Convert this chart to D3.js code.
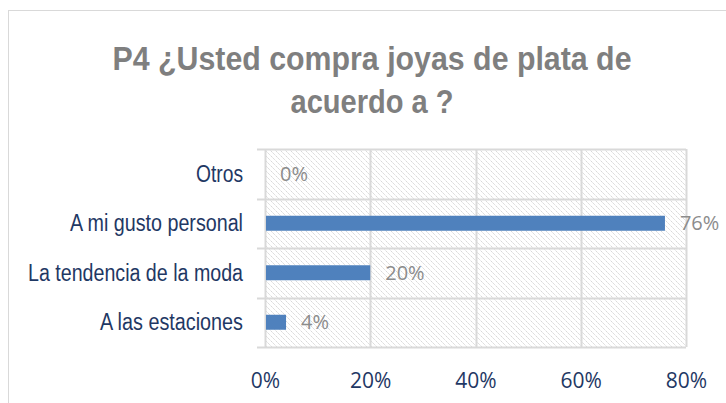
<!DOCTYPE html>
<html lang="es">
<head>
<meta charset="UTF-8">
<title>P4 joyas de plata</title>
<script src="https://d3js.org/d3.v7.min.js"></script>
<style>
  body { margin: 0; background: #fff; }
  svg { display: block; }
  .title { font-family: "Liberation Sans Narrow", "Arial Narrow", "Liberation Sans", sans-serif; font-weight: bold; fill: #7f7f7f; }
  .cat text { font-family: "Liberation Sans Narrow", "Arial Narrow", "Liberation Sans", sans-serif; font-size: 23px; fill: #1f3864; }
  .xax text { font-family: "Open Sans", "Noto Sans", sans-serif; font-size: 21px; fill: #1f3864; }
  .lbl { font-family: "Open Sans", "Noto Sans", sans-serif; font-size: 20px; fill: #8c8c8c; }
</style>
</head>
<body>
<div id="chart"></div>
<script>
// data
const categories = ["Otros", "A mi gusto personal", "La tendencia de la moda", "A las estaciones"];
const values = [0, 0.76, 0.20, 0.04];
const xTicks = [0, 0.2, 0.4, 0.6, 0.8];
const titleLines = ["P4 ¿Usted compra joyas de plata de", "acuerdo a ?"];
const titleWidths = [519, 163];
const catWidths = [47, 173, 215, 143];

const W = 726, H = 403;
const plot = { left: 265, right: 686, top: 149, bottom: 347 };

const svg = d3.select("#chart").append("svg")
  .attr("width", W).attr("height", H);

// hatch pattern for plot background
const defs = svg.append("defs");
const pat = defs.append("pattern")
  .attr("id", "hatch")
  .attr("patternUnits", "userSpaceOnUse")
  .attr("width", 5).attr("height", 5);
pat.append("rect").attr("width", 5).attr("height", 5).attr("fill", "#fff");
pat.append("path")
  .attr("d", "M-1,-1 L6,6 M-1,4 L1,6 M4,-1 L6,1")
  .attr("stroke", "#d4d4d4").attr("stroke-width", 1)
  .attr("stroke-dasharray", "2,1");

// chart border
svg.append("rect")
  .attr("x", 8.5).attr("y", 10.5)
  .attr("width", W).attr("height", H)
  .attr("fill", "none").attr("stroke", "#d9d9d9");

// title
svg.append("g").selectAll("text").data(titleLines).join("text")
  .attr("class", "title")
  .attr("text-anchor", "middle")
  .attr("font-size", 34)
  .attr("x", 372)
  .attr("y", (d, i) => 70 + i * 43)
  .attr("textLength", (d, i) => titleWidths[i])
  .attr("lengthAdjust", "spacingAndGlyphs")
  .text(d => d);

const x = d3.scaleLinear().domain([0, 0.8]).range([plot.left, plot.right]);
const y = d3.scaleBand().domain(categories).range([plot.top, plot.bottom]);

svg.append("rect")
  .attr("x", plot.left).attr("y", plot.top)
  .attr("width", plot.right - plot.left).attr("height", plot.bottom - plot.top)
  .attr("fill", "url(#hatch)");

// vertical gridlines
svg.append("g").selectAll("line").data(xTicks).join("line")
  .attr("x1", d => Math.round(x(d)) + 0.5).attr("x2", d => Math.round(x(d)) + 0.5)
  .attr("y1", plot.top).attr("y2", plot.bottom)
  .attr("stroke", "#d9d9d9").attr("stroke-width", 2);

// horizontal separators (category boundaries)
const bounds = categories.map(c => y(c)).concat([plot.bottom]);
svg.append("g").selectAll("line").data(bounds).join("line")
  .attr("x1", plot.left - 8).attr("x2", plot.right)
  .attr("y1", d => Math.round(d) + 0.5).attr("y2", d => Math.round(d) + 0.5)
  .attr("stroke", "#d9d9d9").attr("stroke-width", 2);

// category axis
const yAxis = svg.append("g").attr("class", "cat")
  .attr("transform", `translate(${plot.left - 22},0)`)
  .call(d3.axisLeft(y).tickSize(0).tickPadding(0));
yAxis.select(".domain").remove();
yAxis.selectAll("text")
  .attr("dy", "0.35em")
  .attr("textLength", (d, i) => catWidths[i])
  .attr("lengthAdjust", "spacingAndGlyphs");

// x axis
const xAxis = svg.append("g").attr("class", "xax")
  .attr("transform", `translate(0,${plot.bottom + 34})`)
  .call(d3.axisBottom(x).tickValues(xTicks).tickFormat(d3.format(".0%")).tickSize(0).tickPadding(0));
xAxis.select(".domain").remove();
xAxis.selectAll("text").attr("dy", "0.35em");

// bars
const barH = 15;
svg.append("g").selectAll("rect").data(values).join("rect")
  .attr("x", x(0) + 1)
  .attr("y", (d, i) => y(categories[i]) + y.bandwidth() / 2 - barH / 2)
  .attr("width", d => Math.max(0, x(d) - x(0) - 1))
  .attr("height", barH)
  .attr("fill", "#4f81bd");

// data labels
svg.append("g").selectAll("text").data(values).join("text")
  .attr("class", "lbl")
  .attr("x", d => x(d) + 15)
  .attr("y", (d, i) => y(categories[i]) + y.bandwidth() / 2)
  .attr("dy", "0.35em")
  .text(d => d3.format(".0%")(d));
</script>
</body>
</html>
